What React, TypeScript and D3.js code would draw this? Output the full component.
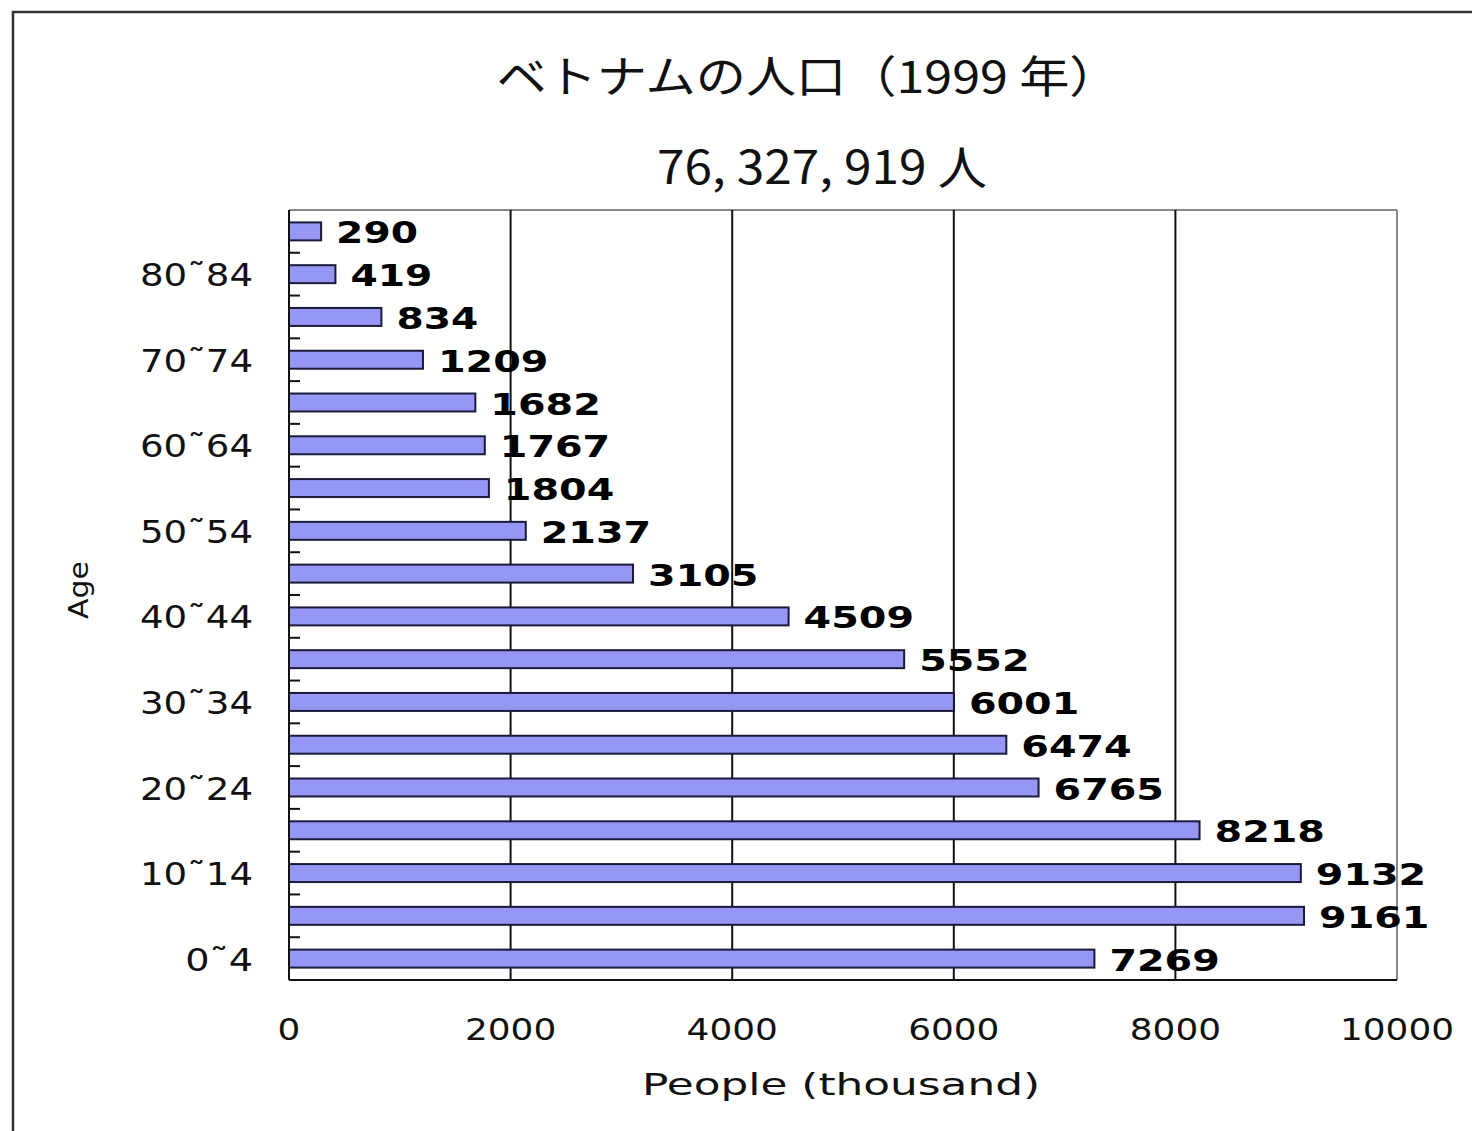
import React from "react";
import * as d3 from "d3";

const categories = [
  "0~4", "5~9", "10~14", "15~19", "20~24", "25~29", "30~34", "35~39", "40~44",
  "45~49", "50~54", "55~59", "60~64", "65~69", "70~74", "75~79", "80~84", "85+",
];
const values = [
  7269, 9161, 9132, 8218, 6765, 6474, 6001, 5552, 4509,
  3105, 2137, 1804, 1767, 1682, 1209, 834, 419, 290,
];
const shownLabels = ["0˜4", "10˜14", "20˜24", "30˜34", "40˜44", "50˜54", "60˜64", "70˜74", "80˜84"];
const shownCats = ["0~4", "10~14", "20~24", "30~34", "40~44", "50~54", "60~64", "70~74", "80~84"];
const xTicks = [0, 2000, 4000, 6000, 8000, 10000];
const gridTicks = [2000, 4000, 6000, 8000];
const title = "ベトナムの人口（1999 年）";
const subtitle = "76, 327, 919 人";
const xTitle = "People (thousand)";
const yTitle = "Age";

const W = 1472;
const H = 1131;
const L = 289, R = 1397, T = 210, B = 980;

export default function App() {
  const x = d3.scaleLinear().domain([0, 10000]).range([L, R]);
  const y = d3.scaleBand<string>().domain(categories).range([B, T]).paddingInner(0.58).paddingOuter(0.29);
  const step = y.step();
  const bw = y.bandwidth();
  const center = (c: string) => (y(c) as number) + bw / 2;
  const boundaries = categories.slice(0, -1).map((c) => center(c) - step / 2);

  const sans = "'DejaVu Sans', 'Liberation Sans', sans-serif";
  const cjk = "'Noto Sans CJK JP', 'Noto Sans', sans-serif";

  return (
    <svg width={W} height={H} viewBox={`0 0 ${W} ${H}`} style={{ position: "absolute", left: 0, top: 0, background: "#fff" }}>
      <rect x={13} y={12} width={W + 20} height={H + 20} fill="#fff" stroke="#333" strokeWidth={2.5} />
      <text x={808} y={93} textAnchor="middle" fontFamily={cjk} fontSize={44} fill="#111" textLength={623} lengthAdjust="spacingAndGlyphs">{title}</text>
      <text x={822} y={184} textAnchor="middle" fontFamily={cjk} fontSize={46} fill="#111" textLength={330} lengthAdjust="spacingAndGlyphs">{subtitle}</text>

      {/* plot frame */}
      <line x1={L} y1={T} x2={R} y2={T} stroke="#888" strokeWidth={2} />
      <line x1={R} y1={T} x2={R} y2={B} stroke="#888" strokeWidth={2} />
      {gridTicks.map((t) => (
        <line key={t} x1={x(t)} y1={T} x2={x(t)} y2={B} stroke="#111" strokeWidth={2} />
      ))}

      {boundaries.map((b, i) => (
        <line key={i} x1={L} y1={b} x2={L + 11} y2={b} stroke="#111" strokeWidth={2} />
      ))}

      {categories.map((c, i) => (
        <rect key={c} x={x(0)} y={y(c) as number} width={x(values[i]) - x(0)} height={bw} fill="#9696f5" stroke="#1a1a3a" strokeWidth={2} />
      ))}

      <line x1={L} y1={T} x2={L} y2={B} stroke="#111" strokeWidth={2} />
      <line x1={L} y1={B} x2={R} y2={B} stroke="#111" strokeWidth={2} />

      {categories.map((c, i) => {
        const s = String(values[i]);
        return (
          <text key={c} x={x(values[i]) + 15} y={center(c) + 12} fontFamily={sans} fontWeight="bold" fontSize={30} fill="#000" textLength={s.length * 28.6 - 4} lengthAdjust="spacingAndGlyphs">{s}</text>
        );
      })}

      {shownCats.map((c, i) => (
        <text key={c} x={253} y={center(c) + 12} textAnchor="end" fontFamily={sans} fontSize={32} fill="#111" textLength={shownLabels[i].length * 22.6} lengthAdjust="spacingAndGlyphs">{shownLabels[i]}</text>
      ))}

      {xTicks.map((t) => {
        const s = String(t);
        return (
          <text key={t} x={x(t)} y={1040} textAnchor="middle" fontFamily={sans} fontSize={31} fill="#111" textLength={s.length * 22.8} lengthAdjust="spacingAndGlyphs">{s}</text>
        );
      })}

      <text x={841} y={1095} textAnchor="middle" fontFamily={sans} fontSize={31} fill="#111" textLength={398} lengthAdjust="spacingAndGlyphs">{xTitle}</text>
      <text transform="translate(88,590) rotate(-90)" textAnchor="middle" fontFamily={sans} fontSize={26} fill="#111" textLength={58} lengthAdjust="spacingAndGlyphs">{yTitle}</text>
    </svg>
  );
}
